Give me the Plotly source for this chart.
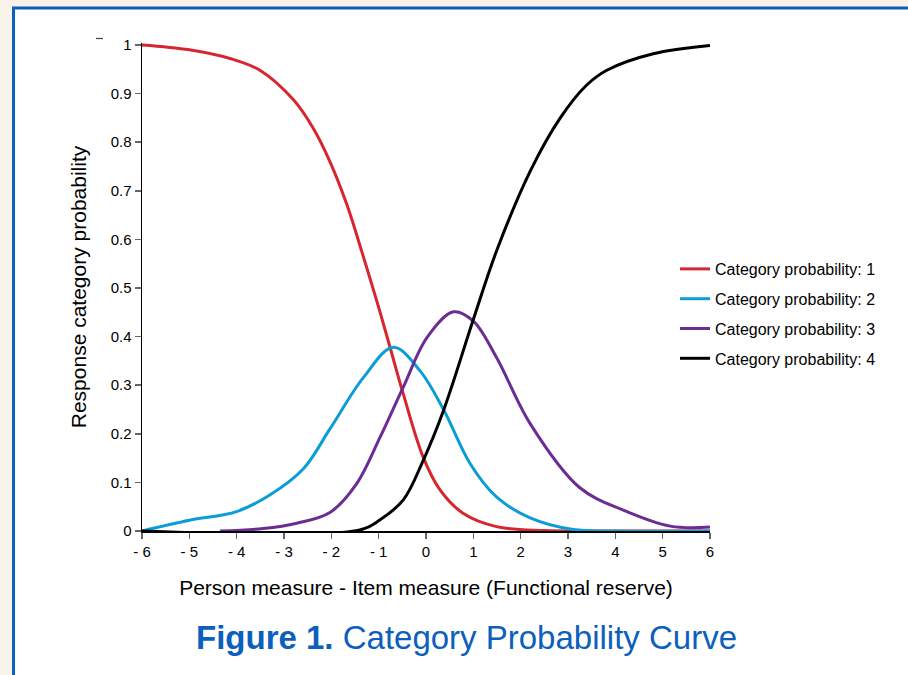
import plotly.graph_objects as go

# ---- data ----
x_cat1 = [-6, -5, -4.14, -3.51, -2.80, -2.38, -2.03, -1.67, -1.36, -1.0, -0.76, -0.48, -0.06, 0.30, 0.79, 1.49, 2.5, 3.5, 6]
y_cat1 = [1.0, 0.990, 0.972, 0.948, 0.887, 0.828, 0.760, 0.671, 0.576, 0.460, 0.378, 0.282, 0.152, 0.084, 0.036, 0.009, 0.001, 0.0, 0.0]

x_cat2 = [-6, -5, -4.0, -3.3, -2.59, -2.03, -1.32, -0.69, -0.13, 0.37, 0.93, 1.49, 2.20, 3.11, 4.0, 6]
y_cat2 = [0.0, 0.022, 0.040, 0.074, 0.128, 0.210, 0.316, 0.378, 0.330, 0.250, 0.139, 0.070, 0.027, 0.003, 0.0, 0.0]

x_cat3 = [-4.35, -3.44, -2.73, -2.03, -1.46, -0.97, -0.48, 0.02, 0.58, 1.00, 1.49, 2.20, 3.25, 4.17, 5.16, 6.0]
y_cat3 = [0.0, 0.005, 0.016, 0.038, 0.098, 0.193, 0.296, 0.398, 0.451, 0.432, 0.357, 0.221, 0.089, 0.043, 0.010, 0.008]

x_cat4 = [-6, -1.4, -0.97, -0.48, -0.06, 0.37, 1.0, 1.49, 2.20, 2.83, 3.39, 3.82, 4.80, 6.0]
y_cat4 = [0.0, 0.002, 0.023, 0.064, 0.145, 0.248, 0.435, 0.576, 0.740, 0.849, 0.917, 0.948, 0.982, 0.999]

series_names = ["Category probability: 1", "Category probability: 2",
                "Category probability: 3", "Category probability: 4"]
series_colors = ["#d6262f", "#0a9dd8", "#6b2c93", "#000000"]

x_tickvals = [-6, -5, -4, -3, -2, -1, 0, 1, 2, 3, 4, 5, 6]
x_ticktext = ["- 6", "- 5", "- 4", "- 3", "- 2", "- 1", "0", "1", "2", "3", "4", "5", "6"]
y_tickvals = [0, 0.1, 0.2, 0.3, 0.4, 0.5, 0.6, 0.7, 0.8, 0.9, 1]
y_ticktext = ["0", "0.1", "0.2", "0.3", "0.4", "0.5", "0.6", "0.7", "0.8", "0.9", "1"]

FONT = "Arial, Liberation Sans, Helvetica, sans-serif"

fig = go.Figure()
all_x = [x_cat1, x_cat2, x_cat3, x_cat4]
all_y = [y_cat1, y_cat2, y_cat3, y_cat4]
for i in range(4):
    fig.add_trace(go.Scatter(
        x=all_x[i], y=all_y[i], mode="lines", name=series_names[i],
        legendgroup="g%d" % i, hoverinfo="skip",
        line=dict(color=series_colors[i], width=3, shape="spline", smoothing=1.0),
    ))

# the page body margin is removed in post_script, so figure fills the window
W, H = 908, 675
L, T = 142, 43
R = W - 710
B = H - 531
pw, ph = W - L - R, H - T - B

def fx(px):
    return (px - L) / pw

def fy(py):
    return (H - B - py) / ph

shapes = [
    dict(type="rect", xref="paper", yref="paper", layer="below",
         x0=fx(13.5), x1=fx(940), y0=fy(700), y1=fy(8),
         fillcolor="white", line=dict(color="#0c5fbd", width=3)),
    dict(type="line", xref="paper", yref="paper", layer="above",
         x0=fx(96), x1=fx(103), y0=fy(38.5), y1=fy(38.5),
         line=dict(color="#444444", width=1.2)),
]

fig.update_layout(
    width=W, height=H,
    margin=dict(l=L, r=R, t=T, b=B, autoexpand=False),
    paper_bgcolor="#f7f3e9",
    plot_bgcolor="white",
    font=dict(family=FONT, color="black"),
    shapes=shapes,
    showlegend=True,
    hovermode=False,
    legend=dict(
        x=fx(675), y=fy(252), xanchor="left", yanchor="top",
        bgcolor="rgba(0,0,0,0)", font=dict(size=16, family=FONT, color="black"),
        tracegroupgap=6, itemwidth=30,
    ),
    xaxis=dict(
        range=[-6, 6], tickvals=x_tickvals, ticktext=x_ticktext,
        showgrid=False, zeroline=False, showline=True, linecolor="black", linewidth=1.5,
        ticks="outside", ticklen=6, tickwidth=1.5, tickcolor="#666666",
        tickfont=dict(size=15, family=FONT, color="black"),
        title=dict(text="Person measure - Item measure (Functional reserve)",
                   font=dict(size=21, family=FONT, color="black"), standoff=22),
        fixedrange=True,
    ),
    yaxis=dict(
        range=[0, 1.004], tickvals=y_tickvals, ticktext=y_ticktext,
        showgrid=False, zeroline=False, showline=True, linecolor="black", linewidth=1.5,
        ticks="outside", ticklen=6, tickwidth=1.5, tickcolor="#666666",
        tickfont=dict(size=15, family=FONT, color="black"),
        title=dict(text="Response category probability",
                   font=dict(size=21, family=FONT, color="black"), standoff=18),
        fixedrange=True,
    ),
    annotations=[
        dict(xref="paper", yref="paper", x=fx(466), y=fy(637), xanchor="center", yanchor="middle",
             showarrow=False,
             text="<b>Figure 1.</b> Category Probability Curve",
             font=dict(size=33, family=FONT, color="#0c5fbd")),
    ],
)

fig.write_html(
    "out.html",
    config={"displayModeBar": False, "staticPlot": True},
    post_script="document.body.style.margin='0px';document.body.style.overflow='hidden';"
                "document.body.style.background='#f7f3e9';",
)
